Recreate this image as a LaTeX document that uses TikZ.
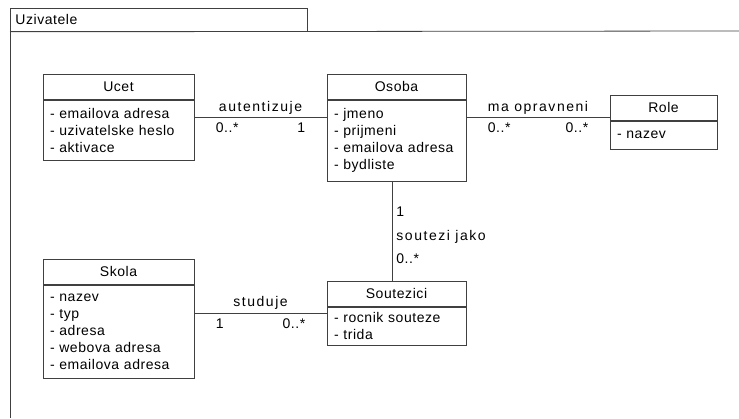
\documentclass[tikz,border=0pt]{standalone}
\usepackage{fontspec}
\setmainfont{Liberation Sans}[LetterSpace=4]
\newfontfamily\labelfont{Liberation Sans}[LetterSpace=11]
\usetikzlibrary{positioning}

\begin{document}
\begin{tikzpicture}[x=1pt, y=-1pt,
  every node/.style={font=\fontsize{14}{17}\selectfont},
  pkgtab/.style={rectangle, draw=black!75, line width=0.8pt, anchor=north west, minimum height=23pt, text width=287pt, inner xsep=5pt, inner ysep=0pt, align=left},
  classhead/.style={rectangle, draw=black!75, line width=0.8pt, minimum width=#1, minimum height=25pt, anchor=north, inner sep=0pt},
  classattr/.style={rectangle, draw=black!75, line width=0.8pt, text width=#1, align=left, inner xsep=7pt, inner ysep=2pt},
  link/.style={draw=black!75, line width=0.8pt},
  assoc/.style={font=\labelfont\fontsize{14}{17}\selectfont, inner sep=0pt},
  mult/.style={inner sep=0pt},
  multfrom/.style={mult, at start, anchor=west, xshift=21pt, yshift=-11pt},
  multto/.style={mult, at end, anchor=east, xshift=-21pt, yshift=-11pt}
]
  \useasboundingbox (0,0) rectangle (739,418);

  % Package frame
  \node[pkgtab] (pkg) at (10,8) {Uzivatele};
  \coordinate (frame-ne) at (739,31);
  \coordinate (frame-sw) at (10,418);
  \draw[link] (pkg.south west) -- (frame-ne);
  \draw[link] (pkg.south west) -- (frame-sw);

  % Classes
  \node[classhead=151pt] (ucet) at (118.5,74) {Ucet};
  \node[classattr=137pt, minimum height=60pt, below=0pt of ucet] (ucet-attr) {- emailova adresa\\- uzivatelske heslo\\- aktivace};

  \node[classhead=139pt] (osoba) at (396.5,74) {Osoba};
  \node[classattr=125pt, minimum height=81pt, below=0pt of osoba] (osoba-attr) {- jmeno\\- prijmeni\\- emailova adresa\\- bydliste};

  \node[classhead=107pt] (role) at (663.5,95) {Role};
  \node[classattr=93pt, minimum height=28pt, below=0pt of role] (role-attr) {- nazev};

  \node[classhead=151pt] (skola) at (118.5,259) {Skola};
  \node[classattr=137pt, minimum height=93pt, below=0pt of skola] (skola-attr) {- nazev\\- typ\\- adresa\\- webova adresa\\- emailova adresa};

  \node[classhead=139pt] (soutezici) at (396.5,281) {Soutezici};
  \node[classattr=125pt, minimum height=38pt, below=0pt of soutezici] (soutezici-attr) {- rocnik souteze\\- trida};

  % Associations
  \coordinate (row-top) at (0,117);
  \coordinate (row-bottom) at (0,313);
  \coordinate (col) at (392,0);

  \draw[link] (ucet-attr.east |- row-top) -- (osoba-attr.west |- row-top)
    node[assoc, midway, yshift=9pt] (autentizuje) {autentizuje}
    node[multfrom] (autentizuje-from) {0..*}
    node[multto] (autentizuje-to) {1};

  \draw[link] (osoba-attr.east |- row-top) -- (role.west |- row-top)
    node[assoc, midway, yshift=9pt] (opravneni) {ma opravneni}
    node[multfrom] (opravneni-from) {0..*}
    node[multto] (opravneni-to) {0..*};

  \draw[link] (skola-attr.east |- row-bottom) -- (soutezici-attr.west |- row-bottom)
    node[assoc, midway, yshift=10pt] (studuje) {studuje}
    node[multfrom] (studuje-from) {1}
    node[multto] (studuje-to) {0..*};

  \draw[link] (osoba-attr.south -| col) -- (soutezici.north -| col)
    node[mult, at start, anchor=west, xshift=4pt, yshift=-30pt] (soutezi-from) {1}
    node[assoc, midway, anchor=west, xshift=4pt, yshift=-6pt] (soutezi) {soutezi jako}
    node[mult, at end, anchor=west, xshift=4pt, yshift=22pt] (soutezi-to) {0..*};
\end{tikzpicture}
\end{document}
